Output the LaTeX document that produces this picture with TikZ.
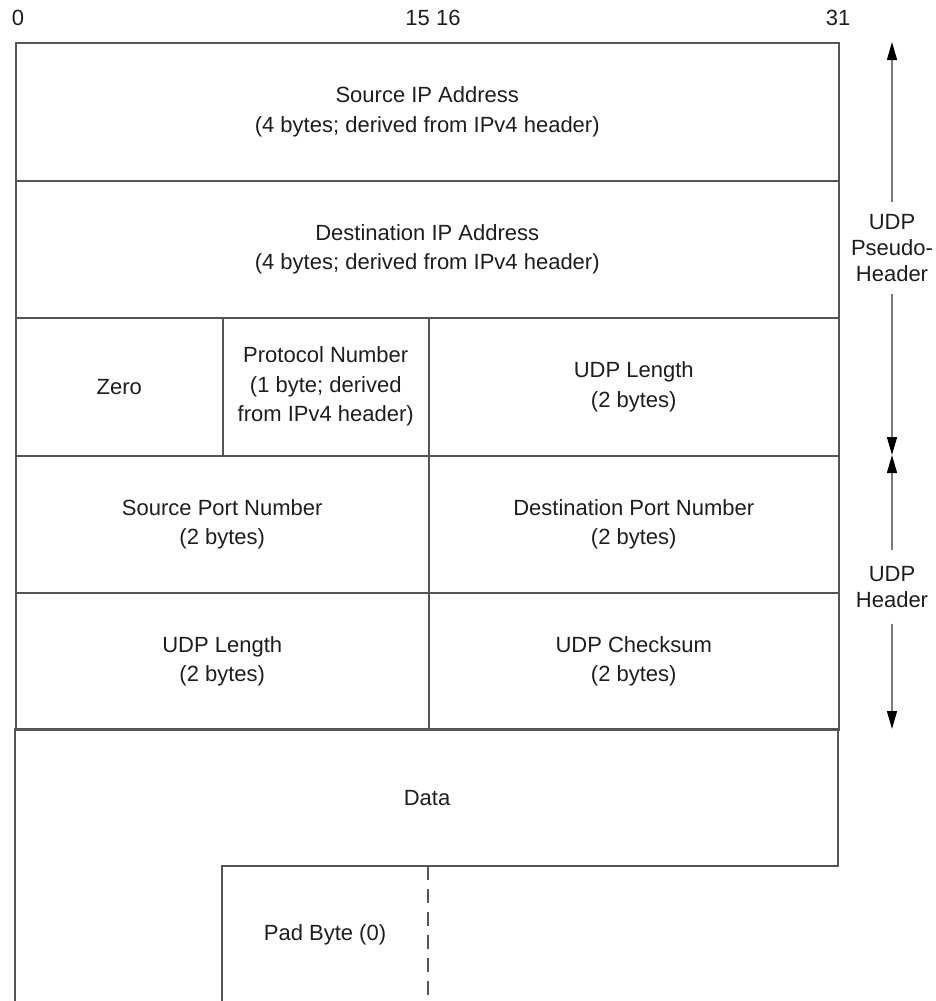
\documentclass[tikz,border=0pt]{standalone}
\usepackage{fontspec}
\setmainfont{Liberation Sans}
\usetikzlibrary{arrows.meta}
\definecolor{linec}{HTML}{555555}
\definecolor{txtc}{HTML}{1E1E1E}
\definecolor{arrc}{HTML}{7A7A7A}
\begin{document}
\begin{tikzpicture}[x=1pt,y=-1pt,
  every node/.style={text=txtc, font=\fontsize{22}{29.5}\selectfont},
  cell/.style={draw=linec, line width=1.5pt, inner sep=0pt, anchor=north west, align=center},
  lbl/.style={align=center, inner sep=0pt},
  side/.style={align=center, fill=white, inner xsep=0pt, inner ysep=12pt, font=\fontsize{22}{26}\selectfont},
  span/.style={draw=arrc, line width=1.3pt, -{Triangle[length=18pt,width=10pt,color=black]}}
]
\useasboundingbox (0,0) rectangle (935,1001);
% bit numbers
\node[lbl] (b0) at (18,18) {0};
\node[lbl] (b15) at (433,18) {15 16};
\node[lbl] (b31) at (838,18) {31};
% cells
\node[cell, minimum width=823pt, minimum height=138pt] (src) at (15,42) {Source IP Address\\(4 bytes; derived from IPv4 header)};
\node[cell, minimum width=823pt, minimum height=137pt] (dst) at (15,180) {Destination IP Address\\(4 bytes; derived from IPv4 header)};
\node[cell, minimum width=207pt, minimum height=138pt] (zero) at (15,317) {Zero};
\node[cell, minimum width=206pt, minimum height=138pt] (proto) at (222,317) {Protocol Number\\(1 byte; derived\\from IPv4 header)};
\node[cell, minimum width=410pt, minimum height=138pt] (ulen1) at (428,317) {UDP Length\\(2 bytes)};
\node[cell, minimum width=413pt, minimum height=137pt] (sport) at (15,455) {Source Port Number\\(2 bytes)};
\node[cell, minimum width=410pt, minimum height=137pt] (dport) at (428,455) {Destination Port Number\\(2 bytes)};
\node[cell, minimum width=413pt, minimum height=137pt] (ulen2) at (15,592) {UDP Length\\(2 bytes)};
\node[cell, minimum width=410pt, minimum height=137pt] (cksum) at (428,592) {UDP Checksum\\(2 bytes)};
% data region
\draw[linec, line width=1.5pt] (15,1001) -- (15,729) -- (838,729) -- (838,866) -- (222,866) -- (222,1001);
\draw[linec, line width=1.5pt, dash pattern=on 14pt off 9pt] (428,866) -- (428,1001);
\node[lbl] (data) at (427,798) {Data};
\node[lbl] (pad) at (325,935) {Pad Byte (0)};
% side spans
\coordinate (ptop) at (892,42);
\coordinate (pmid) at (892,455);
\coordinate (hbot) at (892,729);
\node[side] (pseudo) at (892,248) {UDP\\Pseudo-\\Header};
\node[side, inner ysep=16pt] (udph) at (892,587) {UDP\\Header};
\draw[span] (pseudo.north) -- (ptop);
\draw[span] (pseudo.south) -- (pmid);
\draw[span] (udph.north) -- (pmid);
\draw[span] (udph.south) -- (hbot);
\end{tikzpicture}
\end{document}
